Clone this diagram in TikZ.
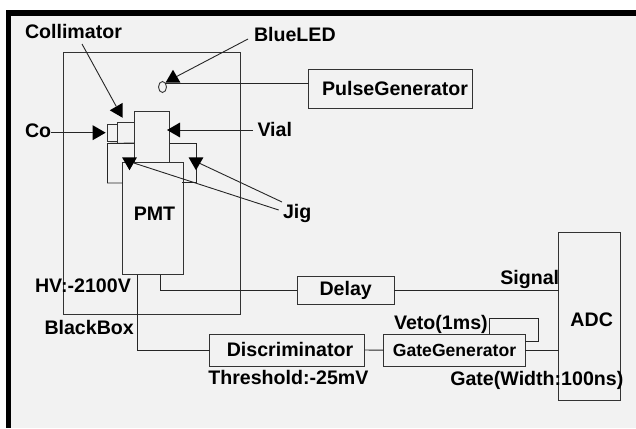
\documentclass[tikz,border=0pt]{standalone}
\usepackage{fontspec}
\setmainfont{Liberation Sans}
\usetikzlibrary{shapes.geometric}
\definecolor{panelgray}{HTML}{F2F2F2}
\tikzset{
  lbl/.style  = {anchor=base west, inner sep=0, outer sep=0, font=\bfseries\fontsize{19.6}{22}\selectfont},
  box/.style  = {draw=black!80, line width=0.9pt, inner sep=0, outer sep=0},
  wire/.style = {draw=black!85, line width=0.9pt},
  head/.style = {regular polygon, regular polygon sides=3, fill=black, inner sep=0, outer sep=0, minimum size=17.3pt},
}
\begin{document}
\begin{tikzpicture}[x=1pt, y=-1pt]
  \useasboundingbox (0,0) rectangle (636,428);
  \fill[black]      (6,10)    rectangle (636,428);
  \fill[panelgray]  (10.5,16) rectangle (636,428);

  % black box and what sits in it
  \node [box, minimum width=177pt, minimum height=262pt]  (blackbox)  at (151.5,183)  {};
  \node [box, minimum width=35.5pt, minimum height=50.5pt] (vial)     at (152,136.75) {};
  \node [box, minimum width=10pt, minimum height=17pt]    (collsmall) at (112.5,133)  {};
  \node [box, minimum width=17pt, minimum height=21pt]    (collbig)   at (126,132.5)  {};
  \node [box, minimum width=61pt, minimum height=112.5pt,
         label={[lbl, anchor=center, xshift=1.5pt, yshift=4pt]center:PMT}] (pmt) at (153,218.25) {};
  \node [box, ellipse, minimum width=8pt, minimum height=11pt] (led) at (162.5,87) {};

  % jig
  \draw [wire] (collbig.south east) -- (107.5,143.5) -- (107.5,183) -- (122.5,183);
  \draw [wire] (vial.east |- 0,143.5) -- (196,143.5) -- (196,182) -- (182,182);

  % electronics
  \node [box, minimum width=164pt, minimum height=38.5pt,
         label={[lbl, anchor=center, xshift=4.5pt]center:PulseGenerator}] (pulse) at (390.5,88.75) {};
  \node [box, minimum width=96.5pt, minimum height=28pt, font=\bfseries\fontsize{19.6}{22}\selectfont] (delay) at (345.7,290.2) {Delay};
  \node [box, minimum width=155pt, minimum height=32pt,
         label={[lbl, anchor=center, xshift=3pt, yshift=1pt]center:Discriminator}] (disc) at (287,350) {};
  \node [box, minimum width=141.5pt, minimum height=32pt, font=\bfseries\fontsize{17.6}{20}\selectfont] (gate) at (454.5,350.2) {GateGenerator};
  \node [box, minimum width=62pt, minimum height=168pt,
         label={[lbl, anchor=center, xshift=2pt, yshift=-3pt]center:ADC}] (adc) at (589.7,316.3) {};

  % labels
  \node [lbl] (colllbl)   at (25,38.3)    {Collimator};
  \node [lbl] (ledlbl)    at (254,41.7)   {BlueLED};
  \node [lbl] (colbl)     at (25,137.7)   {Co};
  \node [lbl] (viallbl)   at (257.5,136)  {Vial};
  \node [lbl] (jiglbl)    at (283,218)    {Jig};
  \node [lbl] (hvlbl)     at (35,292.7)   {HV:-2100V};
  \node [lbl] (boxlbl)    at (44.5,334)   {BlackBox};
  \node [lbl] (threshlbl) at (208.3,384.3) {Threshold:-25mV};
  \node [lbl] (signallbl) at (500.3,284)  {Signal};
  \node [lbl] (vetolbl)   at (394,329)    {Veto(1ms)};
  \node [lbl] (gatelbl)   at (450.3,385.3) {Gate(Width:100ns)};

  % pointers
  \node [head, shape border rotate=90]  (collhead) at (118.4,110.3) {};
  \node [head, shape border rotate=-90] (cohead)   at (97,132.7)    {};
  \node [head, shape border rotate=90]  (vialhead) at (175.7,130)   {};
  \node [head]                          (ledhead)  at (173,78.4)    {};
  \node [head, shape border rotate=180] (jighead)  at (129.5,161.6) {};
  \node [head, shape border rotate=180] (jigheadb) at (196,161.6)   {};
  \coordinate (collfree) at (82,44);
  \coordinate (ledfree)  at (248,39);
  \coordinate (jigfree)  at (278.7,210);
  \coordinate (jigfreeb) at (282,202);
  \draw [wire] (collfree) -- (collhead);
  \draw [wire] (ledfree) -- (ledhead);
  \draw [wire] (cohead -| colbl.east) -- (cohead);
  \draw [wire] (vialhead) -- ([xshift=-4.5pt]vialhead -| viallbl.west);
  \draw [wire] (jigfree) -- (jighead);
  \draw [wire] (jigfreeb) -- (jigheadb);

  % wiring
  \coordinate (vetocorner) at (538.3,318.3);
  \draw [wire] (led.north east) -- (led.north east -| pulse.west);
  \draw [wire] ([xshift=-15.5pt]pmt.south) |- (disc.west);
  \draw [wire] ([xshift=7.5pt]pmt.south) |- (delay.west);
  \draw [wire] (delay.east) -- (delay.east -| adc.west);
  \draw [wire] (disc.east) -- (gate.west);
  \draw [wire] (gate.east) -- (gate.east -| adc.west);
  \draw [wire] ([xshift=35pt]gate.north) |- (vetocorner) |- ([yshift=9pt]gate.east);
\end{tikzpicture}
\end{document}
